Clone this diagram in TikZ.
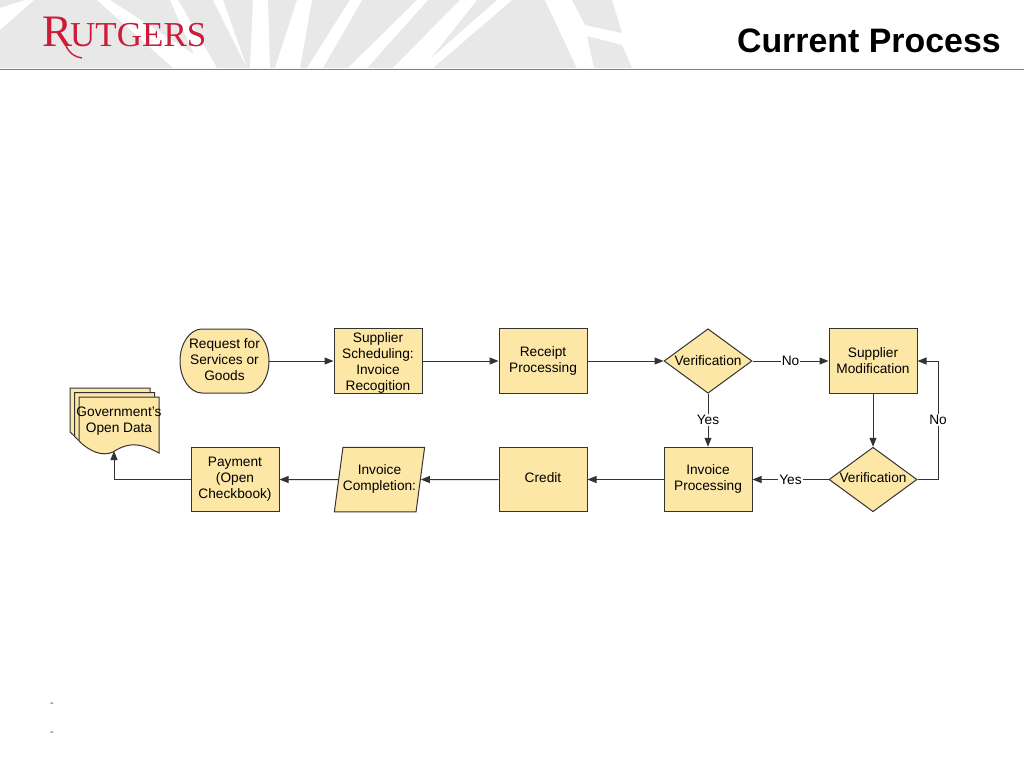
\documentclass[tikz,border=0pt]{standalone}
\usepackage{fontspec}
\setmainfont{Liberation Sans}
\newfontfamily\logofont{Liberation Serif}
\usetikzlibrary{shapes.geometric, arrows.meta}

\definecolor{boxfill}{HTML}{FDE7A6}
\definecolor{boxline}{HTML}{333333}
\definecolor{bannergray}{HTML}{E8E8E8}
\definecolor{logored}{HTML}{CC1C3A}

\tikzset{
	flowbox/.style={rectangle, draw=boxline, fill=boxfill, line width=1pt, minimum width=88pt, minimum height=64.5pt, inner sep=0pt, align=center, font=\fontsize{13.7}{16}\selectfont},
	flowcheck/.style={flowbox, diamond, aspect=1.375},
	flowslant/.style={flowbox, trapezium, trapezium stretches body=true, trapezium left angle=74, trapezium right angle=106, minimum width=87pt},
	flowline/.style={draw=boxline, line width=1pt, -{Triangle[length=9pt,width=7pt]}},
	flowlabel/.style={fill=white, inner sep=1pt, font=\fontsize{13.7}{16}\selectfont}
}

\begin{document}
\begin{tikzpicture}[x=1pt, y=-1pt]
	\def\rowA{361};
	\def\rowB{479.5};

	\useasboundingbox (0,0) rectangle (1024,768);

	\begin{scope}
		\fill[bannergray] (0,0) -- (545,0) -- (577,68) -- (0,68) -- cycle;
		\fill[bannergray] (572,0) -- (612,0) -- (622,33) -- (585,25) -- cycle;
		\fill[bannergray] (587,36) -- (622,45) -- (632,68) -- (594,68) -- cycle;
		\foreach \a/\b/\c/\d in {97/110/173/215, 170/178/200/217, 213/223/247/247, 253/268/250/270, 297/312/275/300, 350/362/307/323, 417/428/348/367, 460/477/393/423, 497/512/420/433, 545/572/577/594}
		{
			\fill[white] (\a,0) -- (\b,0) -- (\d,68) -- (\c,68) -- cycle;
		}
		\fill[white] (0,8) -- (25,0) -- (34,0) -- (0,30) -- cycle;
		\draw[gray, line width=1pt] (0,69.5) -- (1024,69.5);
	\end{scope}

	\begin{scope}
		\node (logoR) [anchor=base west, inner sep=0pt, text=logored, font=\logofont\fontsize{45}{45}\selectfont] at (42,47) {R};
		\node (logoName) [anchor=base west, inner sep=0pt, text=logored, font=\logofont\fontsize{35}{35}\selectfont] at (70,46) {UTGERS};
		\draw[logored, line width=1.4pt] (66,46) .. controls (70,54) and (75,57) .. (82,58);
		\node (title) [anchor=base east, inner sep=0pt, font=\bfseries\fontsize{33.9}{36}\selectfont] at (1001,52.5) {Current Process};
	\end{scope}

	\begin{scope}
		\foreach \d in {0,4.5,9}
		{
			\filldraw[draw=boxline, fill=boxfill, line width=1pt, shift={(\d,\d)}] (70,388) -- (150,388) -- (150,444) .. controls (135,436) and (122,431) .. (104,443) .. controls (93,448) and (80,442) .. (70,432) -- cycle;
		}
		\node (data) [inner sep=0pt, align=center, font=\fontsize{13.7}{16}\selectfont] at (119,419) {\rule{0pt}{14pt}Government’s\\Open Data};
		\coordinate (dataTip) at (114,451);
	\end{scope}

	\begin{scope}
		\filldraw[draw=boxline, fill=boxfill, line width=1pt] (180,361) .. controls (180,343.4) and (190,329) .. (202,329) -- (247,329) .. controls (259,329) and (269,343.4) .. (269,361) .. controls (269,378.6) and (259,393) .. (247,393) -- (202,393) .. controls (190,393) and (180,378.6) .. (180,361) -- cycle;
		\node (request) [flowbox, draw=none, fill=none] at (224.5,\rowA) {Request for\\Services or\\Goods\rule[-2.5pt]{0pt}{2.5pt}};
		\node (schedule) [flowbox] at (378,\rowA) {\rule{0pt}{14pt}Supplier\\Scheduling:\\Invoice\\Recogition};
		\node (receipt) [flowbox] at (543,\rowA) {Receipt\\Processing};
		\node (verifyA) [flowcheck] at (708,\rowA) {Verification};
		\node (modify) [flowbox] at (873,\rowA) {Supplier\\Modification};
		\node (verifyB) [flowcheck] at (873,\rowB) {\smash{\raisebox{-2.5pt}{Verification}}};
		\node (process) [flowbox] at (708,\rowB) {Invoice\\Processing\rule[-4pt]{0pt}{4pt}};
		\node (credit) [flowbox] at (543,\rowB) {\smash{\raisebox{-2.5pt}{Credit}}};
		\node (complete) [flowslant] at (379.5,\rowB) {Invoice\\Completion:\rule[-4pt]{0pt}{4pt}};
		\node (payment) [flowbox] at (235,\rowB) {Payment\\(Open\\Checkbook)};
		\coordinate (loop) at (938,420);
	\end{scope}

	\begin{scope}
		\foreach \from/\to in {request/schedule, schedule/receipt, receipt/verifyA, modify/verifyB, process/credit, credit/complete, complete/payment}
		{
			\draw[flowline] (\from) -- (\to);
		}
		\draw[flowline] (verifyA) -- node [flowlabel] {No} (modify);
		\draw[flowline] (verifyA) -- node [flowlabel] {Yes} (process);
		\draw[flowline] (verifyB) -- node [flowlabel] {Yes} (process);
		\draw[flowline] (verifyB.east) -| (loop) |- (modify.east);
		\node (loopLabel) [flowlabel] at (loop) {No};
		\draw[flowline] (payment.west) -| (dataTip);
	\end{scope}

	\begin{scope}
		\foreach \y/\name in {705/dashA, 734/dashB}
		{
			\node (\name) [inner sep=0pt, text=black!70, font=\fontsize{11}{11}\selectfont] at (52,\y) {-};
		}
	\end{scope}
\end{tikzpicture}
\end{document}
